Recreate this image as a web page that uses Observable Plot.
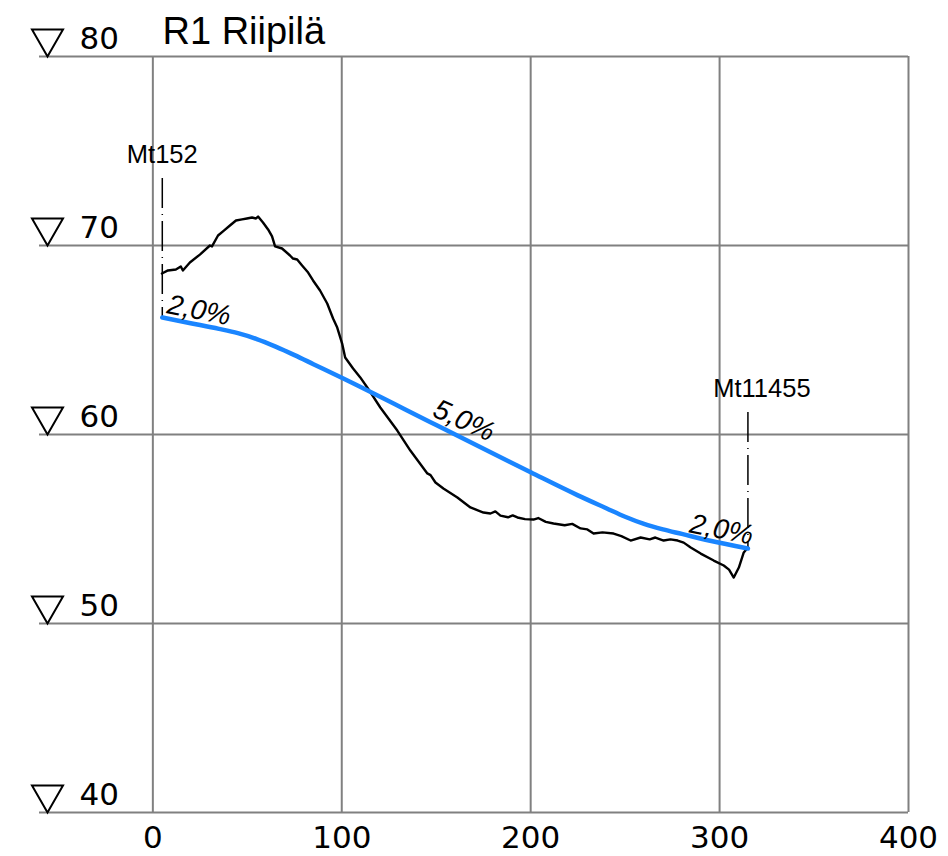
<!DOCTYPE html>
<html><head><meta charset="utf-8">
<script src="https://cdn.jsdelivr.net/npm/d3@7"></script>
<script src="https://cdn.jsdelivr.net/npm/@observablehq/plot@0.6"></script>
<style>body{margin:0;background:#fff}</style>
</head><body><div id="chart"></div>
<script>
// ---- data ----
const distTicks = [0, 100, 200, 300, 400];
const elevTicks = [40, 50, 60, 70, 80];
const titleText = "R1 Riipilä";

const groundX = [4.8, 8.0, 12.2, 14.8, 15.9, 19.6, 24.9, 30.2, 31.3, 34.5, 37.6, 40.8, 44.0, 47.2, 49.8, 52.5, 54.6, 55.7, 58.3, 61.0, 63.1, 64.7, 68.4, 72.6, 74.2, 76.4, 79.0, 82.2, 84.8, 88.5, 92.3, 95.4, 97.6, 100.2, 101.8, 106.0, 109.8, 113.5, 120.4, 129.4, 136.3, 145.3, 147.0, 149.6, 153.8, 161.2, 168.1, 175.0, 178.7, 181.3, 184.0, 188.0, 190.5, 193.0, 197.0, 201.5, 204.0, 208.0, 212.1, 218.0, 222.0, 226.4, 230.0, 233.3, 238.0, 243.9, 248.0, 252.9, 258.2, 263.0, 266.0, 270.4, 274.0, 277.8, 281.0, 284.7, 290.0, 296.9, 302.2, 305.0, 307.5, 310.2, 312.8, 315.0];
const groundY = [68.52, 68.68, 68.73, 68.89, 68.68, 69.10, 69.52, 70.00, 69.95, 70.53, 70.79, 71.06, 71.32, 71.38, 71.43, 71.48, 71.43, 71.53, 71.22, 70.85, 70.48, 69.95, 69.84, 69.47, 69.31, 69.26, 68.94, 68.57, 68.15, 67.62, 66.93, 66.14, 65.66, 64.81, 64.07, 63.49, 63.02, 62.49, 61.43, 60.21, 59.15, 57.94, 57.85, 57.46, 57.14, 56.67, 56.14, 55.87, 55.82, 55.93, 55.71, 55.62, 55.72, 55.61, 55.52, 55.50, 55.58, 55.38, 55.29, 55.20, 55.27, 55.03, 54.98, 54.76, 54.82, 54.76, 54.62, 54.39, 54.55, 54.45, 54.55, 54.39, 54.45, 54.39, 54.28, 54.02, 53.70, 53.33, 53.07, 52.85, 52.43, 52.96, 53.76, 54.02];

const designX = [5, 20, 35, 45, 55, 65, 75, 85, 100, 150, 200, 225, 240, 250, 260, 270, 280, 295, 315];
const designY = [66.19, 65.89, 65.59, 65.36, 65.05, 64.65, 64.2, 63.72, 63.0, 60.5, 58.0, 56.78, 56.1, 55.65, 55.27, 54.98, 54.74, 54.38, 53.97];

const stationNames = ["Mt152", "Mt11455"];
const stationX = [5, 315];
const stationTop = [73.54, 61.16];
const stationBottom = [66.19, 53.97];
const stationLabelY = [74.39, 62.01];

const gradeTexts = ["2,0%", "5,0%", "2,0%"];
const gradeX = [23.6, 162.8, 300.1];
const gradeY = [66.1, 60.3, 54.5];
const gradeAngle = [11, 24, 11];

// ---- tables ----
const ground = groundX.map((x, i) => ({x, y: groundY[i]}));
const design = designX.map((x, i) => ({x, y: designY[i]}));
const stations = stationNames.map((name, i) => ({name, x: stationX[i], top: stationTop[i], bottom: stationBottom[i], labelY: stationLabelY[i]}));
const grades = gradeTexts.map((t, i) => ({t, x: gradeX[i], y: gradeY[i], a: gradeAngle[i]}));

const downTriangle = {
  draw(ctx) {
    ctx.moveTo(0, 0);
    ctx.lineTo(-15.5, -27);
    ctx.lineTo(15.5, -27);
    ctx.closePath();
  }
};

const gridStyle = {stroke: "#808080", strokeOpacity: 1, strokeWidth: 2};
const numFont = "DejaVu Sans";
const sansFont = "Liberation Sans, Arial, sans-serif";

const chart = Plot.plot({
  width: 948,
  height: 856,
  marginLeft: 39,
  marginRight: 40,
  marginTop: 56,
  marginBottom: 44,
  x: {domain: [-60, 400], axis: null},
  y: {domain: [40, 80], axis: null},
  style: {background: "white", overflow: "visible"},
  marks: [
    Plot.gridY(elevTicks, gridStyle),
    Plot.gridX(distTicks, gridStyle),
    Plot.axisX(distTicks, {tickSize: 0, tickPadding: 13, fontSize: 31, fontFamily: numFont, fill: "black", label: null}),
    Plot.dot(elevTicks, {y: d => d, frameAnchor: "left", dx: 8, symbol: downTriangle, r: 10, fill: "white", stroke: "black", strokeWidth: 2}),
    Plot.text(elevTicks, {y: d => d, text: d => String(d), frameAnchor: "left", dx: 40, dy: -8, textAnchor: "start", lineAnchor: "bottom", fontSize: 31, fontFamily: numFont, fill: "black"}),
    Plot.text([titleText], {frameAnchor: "top-left", dx: 123, dy: -13, textAnchor: "start", lineAnchor: "bottom", fontSize: 38, fontFamily: sansFont, fill: "black"}),
    Plot.ruleX(stations, {x: "x", y1: "top", y2: "bottom", stroke: "black", strokeWidth: 1.5, strokeDasharray: "30,6,1,6"}),
    Plot.text(stations.slice(0, 1), {x: "x", y: "labelY", text: "name", textAnchor: "middle", lineAnchor: "bottom", fontSize: 25.5, fontFamily: sansFont, fill: "black"}),
    Plot.text(stations.slice(1), {x: "x", y: "labelY", text: "name", dx: 14, textAnchor: "middle", lineAnchor: "bottom", fontSize: 25.5, fontFamily: sansFont, fill: "black"}),
    Plot.line(ground, {x: "x", y: "y", stroke: "black", strokeWidth: 2.4, strokeLinejoin: "round"}),
    Plot.line(design, {x: "x", y: "y", stroke: "#1a85ff", strokeWidth: 4.5, strokeLinejoin: "round", curve: "monotone-x"}),
    Plot.text(grades, {x: "x", y: "y", text: "t", rotate: "a", textAnchor: "middle", lineAnchor: "bottom", fontSize: 28, fontStyle: "italic", fontFamily: "'Liberation Sans Narrow', Liberation Sans, sans-serif", fill: "black"})
  ]
});
document.getElementById("chart").appendChild(chart);
</script>
</body></html>
